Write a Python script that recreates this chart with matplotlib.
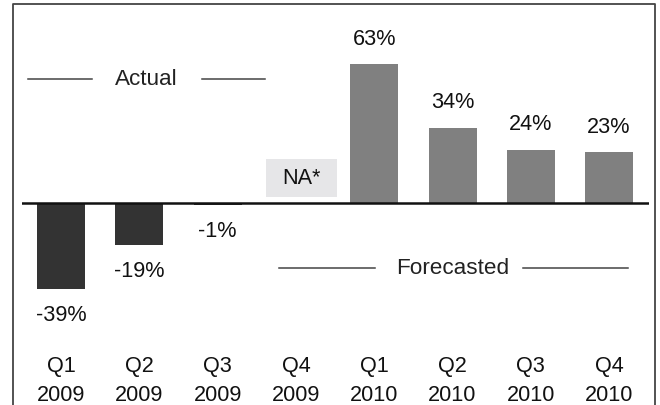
import matplotlib
matplotlib.use("Agg")
import matplotlib.pyplot as plt
from matplotlib.patches import Rectangle
from matplotlib.lines import Line2D

plt.rcParams['font.family'] = ['Liberation Sans', 'DejaVu Sans']

quarters = ["Q1", "Q2", "Q3", "Q4", "Q1", "Q2", "Q3", "Q4"]
years = ["2009", "2009", "2009", "2009", "2010", "2010", "2010", "2010"]
actual_idx = [0, 1, 2]
actual_vals = [-39, -19, -1]
na_idx = 3
na_label = "NA*"
forecast_idx = [4, 5, 6, 7]
forecast_vals = [63, 34, 24, 23]

DARK = "#333333"
GRAY = "#808080"
FS = 15.6

W, H = 660, 406
fig = plt.figure(figsize=(W / 100, H / 100), dpi=100)
fig.patch.set_facecolor("white")

# axes: x from pixel 22 to 649, y full height
ax = fig.add_axes([22 / W, 0, (649 - 22) / W, 1])
ax.set_xlim(-0.5, 7.51)
ax.set_ylim(-(H - 204) / 2.2, (204 - 0) / 2.2)
ax.axis("off")

bw = 0.613
ax.bar(actual_idx, actual_vals, width=bw, color=DARK, zorder=2)
ax.bar(forecast_idx, forecast_vals, width=bw, color=GRAY, zorder=2)
ax.axhline(0, color="#111111", lw=1.8, zorder=3)

for i, v in zip(actual_idx, actual_vals):
    ax.annotate(f"{v}%", (i, v), xytext=(0, -18.5), textcoords="offset points",
                ha="center", va="center", fontsize=FS, color="#111111")
for i, v in zip(forecast_idx, forecast_vals):
    ax.annotate(f"{v}%", (i, v), xytext=(0, 19), textcoords="offset points",
                ha="center", va="center", fontsize=FS, color="#111111")

# NA box
ax.add_patch(Rectangle((na_idx + 0.07 - 0.455, 2.7), 0.91, 17.3,
                       facecolor="#e6e6e8", edgecolor="none", zorder=1))
ax.text(na_idx + 0.07, 11.4, na_label, ha="center", va="center",
        fontsize=FS, color="#111111", zorder=2)

# category labels
for i, (q, y) in enumerate(zip(quarters, years)):
    ax.text(i, -(367 - 204) / 2.2, q, ha="center", va="center", fontsize=FS, color="#111111")
    ax.text(i, -(396 - 204) / 2.2, y, ha="center", va="center", fontsize=FS, color="#111111")

# Actual / Forecasted brackets
ya = (204 - 80) / 2.2
ax.plot([-0.42, 0.4], [ya, ya], color="#444444", lw=1.1)
ax.plot([1.8, 2.61], [ya, ya], color="#444444", lw=1.1)
ax.text(1.09, ya, "Actual", ha="center", va="center", fontsize=FS + 0.6, color="#222222")

yf = -(269 - 204) / 2.2
ax.plot([2.78, 4.01], [yf, yf], color="#444444", lw=1.1)
ax.plot([5.9, 7.24], [yf, yf], color="#444444", lw=1.1)
ax.text(5.0, yf, "Forecasted", ha="center", va="center", fontsize=FS + 0.6, color="#222222")

# outer frame (open at bottom)
fx0, fx1, fy = 13 / W, 655 / W, 1 - 5 / H
fig.add_artist(Line2D([fx0, fx0, fx1, fx1], [0, fy, fy, 0], transform=fig.transFigure,
                      color="#444444", lw=1.3))

fig.savefig("out.png", dpi=100)
